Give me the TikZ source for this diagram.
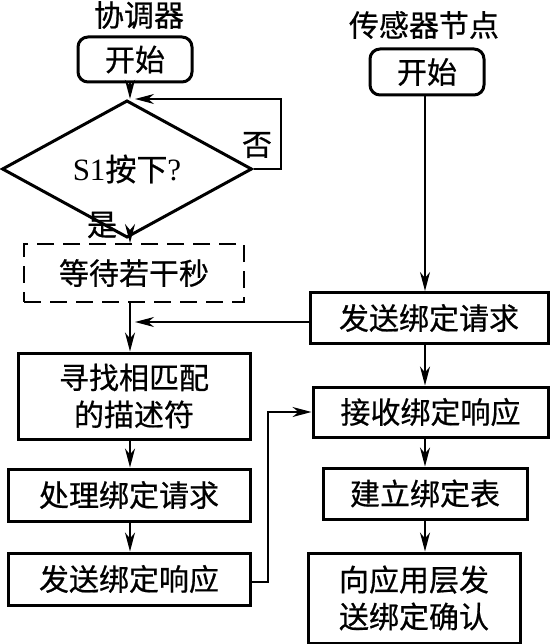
\documentclass[tikz,border=0pt]{standalone}
\usepackage{fontspec}
\setmainfont{Liberation Serif}
\newfontfamily\cjk[FakeBold=0.6]{Noto Sans CJK SC}
\usetikzlibrary{shapes.geometric,arrows.meta,calc}
\begin{document}
\begin{tikzpicture}[x=1pt,y=-1pt,
  txt/.style={font=\cjk\fontsize{30}{37}\selectfont,inner sep=0pt,align=center},
  box/.style={draw,line width=3pt,inner sep=0pt,align=center,font=\cjk\fontsize{30}{37}\selectfont},
  startbox/.style={box,rounded corners=10pt},
  waitbox/.style={box,line width=2pt,dash pattern=on 17pt off 9pt},
  decbox/.style={draw,diamond,line width=3pt,inner sep=0pt,font=\fontsize{31}{37}\selectfont},
  arr/.style={line width=1.8pt,-{Stealth[length=19pt,width=10pt,inset=6pt]}},
  thinarr/.style={arr,line width=1.3pt}]
\useasboundingbox (0,0) rectangle (551,644);
% axes
\coordinate (ax) at (130,0);
\coordinate (bx) at (425,0);
\coordinate (lx) at (281,0);
\coordinate (rx) at (268,0);
\coordinate (j1) at (130,99);
% titles
\node[txt] (t1) at (139,15) {协调器};
\node[txt] (t2) at (424,25) {传感器节点};
% left column
\node[startbox,minimum width=114pt,minimum height=45pt] (start1) at (135,59.5) {开始};
\node[decbox,minimum width=250pt,minimum height=78pt] (d) at (127,169) {S1{\cjk 按下}?};
\node[txt] (no) at (257,145) {否};
\node[txt] (yes) at (102,225) {是};
\node[waitbox,minimum width=220pt,minimum height=58pt] (wait) at (134,273) {等待若干秒};
\node[box,minimum width=232pt,minimum height=86pt] (find) at (134,396) {寻找相匹配\\的描述符};
\node[box,minimum width=242pt,minimum height=52pt] (proc) at (129,495) {处理绑定请求};
\node[box,minimum width=242pt,minimum height=52pt] (send) at (129,579) {发送绑定响应};
% right column
\node[startbox,minimum width=114pt,minimum height=46pt] (start2) at (427,72) {开始};
\node[box,minimum width=238pt,minimum height=51pt] (req) at (429,318) {发送绑定请求};
\node[box,minimum width=235pt,minimum height=50pt] (recv) at (430.5,412) {接收绑定响应};
\node[box,minimum width=204pt,minimum height=51pt] (tbl) at (425,493.5) {建立绑定表};
\node[box,minimum width=212pt,minimum height=90pt] (conf) at (414,598) {向应用层发\\送绑定确认};
% connectors left
\draw[arr] (ax |- start1.south) -- (ax |- d.north);
\draw[thinarr,shorten >=5pt] (d.east) -- (d.east -| lx) |- (j1);
\draw[arr] (ax |- d.south) -- (ax |- wait.north);
\draw[arr] (ax |- wait.south) -- (ax |- find.north);
\draw[thinarr,shorten >=5pt] ([yshift=-4pt]req.west) -- ([yshift=-4pt]ax |- req.west);
\draw[arr] (ax |- find.south) -- (ax |- proc.north);
\draw[arr] (ax |- proc.south) -- (ax |- send.north);
\draw[arr] ([yshift=-3pt]send.east) -- ([yshift=-3pt]send.east -| rx) |- (recv.west);
% connectors right
\draw[arr] (bx |- start2.south) -- (bx |- req.north);
\draw[arr] (bx |- req.south) -- (bx |- recv.north);
\draw[arr] (bx |- recv.south) -- (bx |- tbl.north);
\draw[arr] (bx |- tbl.south) -- (bx |- conf.north);
\end{tikzpicture}
\end{document}
